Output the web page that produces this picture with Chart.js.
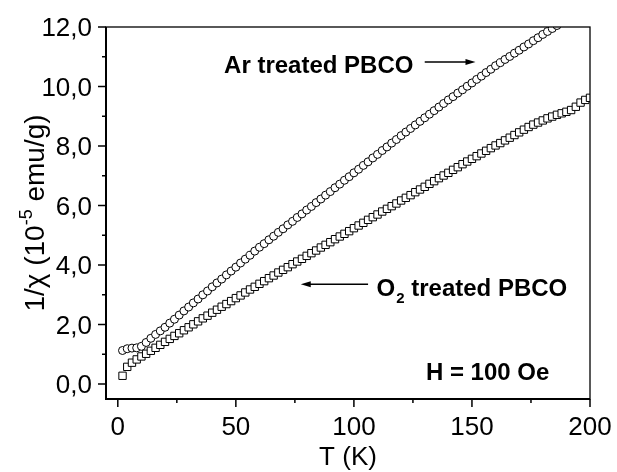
<!DOCTYPE html>
<html>
<head>
<meta charset="utf-8">
<script src="https://cdn.jsdelivr.net/npm/chart.js@4.4.0/dist/chart.umd.min.js"></script>
<style>
  body { margin: 0; background: #fff; }
  #wrap { width: 617px; height: 472px; }
</style>
</head>
<body>
<div id="wrap"><canvas id="chi"></canvas></div>
<script>
var temps = [2,4,6,8,10,12,14,16,18,20,22,24,26,28,30,32,34,36,38,40,
  42,44,46,48,50,52,54,56,58,60,62,64,66,68,70,72,74,76,78,80,
  82,84,86,88,90,92,94,96,98,100,102,104,106,108,110,112,114,116,118,120,
  122,124,126,128,130,132,134,136,138,140,142,144,146,148,150,152,154,156,158,160,
  162,164,166,168,170,172,174,176,178,180,182,184,186,188,190,192,194,196,198,200];

// Ar treated PBCO (circles)
var arValues = [1.13,1.19,1.21,1.22,1.27,1.40,1.54,1.67,1.79,1.91,
  2.05,2.18,2.32,2.46,2.59,2.73,2.86,3.00,3.13,3.27,
  3.40,3.53,3.67,3.80,3.93,4.07,4.20,4.33,4.47,4.60,
  4.72,4.85,4.97,5.10,5.22,5.35,5.47,5.60,5.72,5.85,
  5.97,6.10,6.22,6.35,6.47,6.60,6.72,6.85,6.97,7.10,
  7.22,7.35,7.47,7.60,7.72,7.85,7.97,8.10,8.22,8.35,
  8.47,8.59,8.71,8.83,8.95,9.07,9.19,9.31,9.43,9.55,
  9.66,9.78,9.89,10.01,10.12,10.24,10.35,10.47,10.58,10.70,
  10.80,10.91,11.01,11.12,11.22,11.33,11.43,11.54,11.64,11.75,
  11.85,11.95,12.05];

// O2 treated PBCO (squares)
var o2Values = [0.28,0.58,0.72,0.83,0.93,1.02,1.12,1.22,1.32,1.42,
  1.52,1.62,1.71,1.81,1.91,2.01,2.11,2.21,2.30,2.40,
  2.50,2.60,2.69,2.79,2.89,2.98,3.08,3.18,3.27,3.37,
  3.46,3.56,3.65,3.75,3.84,3.93,4.03,4.12,4.21,4.31,
  4.40,4.49,4.59,4.68,4.77,4.87,4.96,5.05,5.14,5.24,
  5.33,5.42,5.52,5.61,5.70,5.80,5.89,5.98,6.07,6.17,
  6.26,6.35,6.45,6.54,6.63,6.73,6.82,6.92,7.01,7.10,
  7.20,7.29,7.39,7.48,7.57,7.66,7.75,7.84,7.93,8.02,
  8.10,8.19,8.28,8.37,8.46,8.55,8.64,8.72,8.79,8.86,
  8.93,8.99,9.05,9.10,9.15,9.21,9.32,9.46,9.55,9.62];

var xMajor = [0, 50, 100, 150, 200];
var xMinor = [25, 75, 125, 175];
var yMajor = [0, 2, 4, 6, 8, 10, 12];
var yMinor = [1, 3, 5, 7, 9, 11];

function pts(vals){
    return vals.map(function(v, i){ return {x: temps[i], y: v}; });
}

function arrow(ctx, x1, y1, x2, y2){
    var dir = x2 > x1 ? 1 : -1;
    ctx.beginPath();
    ctx.moveTo(x1, y1);
    ctx.lineTo(x2 - dir*8, y2);
    ctx.stroke();
    ctx.beginPath();
    ctx.moveTo(x2, y2);
    ctx.lineTo(x2 - dir*10, y2 - 3);
    ctx.lineTo(x2 - dir*10, y2 + 3);
    ctx.closePath();
    ctx.fill();
}

var axesPlugin = {
    id: 'axesPlugin',
    afterDraw: function(chart){
        var ctx = chart.ctx, a = chart.chartArea;
        var x = chart.scales.x, y = chart.scales.y;
        ctx.save();
        ctx.strokeStyle = '#000';
        ctx.fillStyle = '#000';

        // frame
        ctx.lineWidth = 1.3;
        ctx.strokeRect(a.left, a.top, a.right - a.left, a.bottom - a.top);
        ctx.lineWidth = 2;
        ctx.beginPath();
        ctx.moveTo(a.left, a.top);
        ctx.lineTo(a.left, a.bottom);
        ctx.lineTo(a.right, a.bottom);
        ctx.stroke();

        // ticks
        ctx.lineWidth = 1.5;
        ctx.beginPath();
        xMajor.forEach(function(t){ var px = x.getPixelForValue(t); ctx.moveTo(px, a.bottom); ctx.lineTo(px, a.bottom + 8); });
        xMinor.forEach(function(t){ var px = x.getPixelForValue(t); ctx.moveTo(px, a.bottom); ctx.lineTo(px, a.bottom + 4); });
        yMajor.forEach(function(t){ var py = y.getPixelForValue(t); ctx.moveTo(a.left - 8, py); ctx.lineTo(a.left, py); });
        yMinor.forEach(function(t){ var py = y.getPixelForValue(t); ctx.moveTo(a.left - 4, py); ctx.lineTo(a.left, py); });
        ctx.stroke();

        // tick labels
        ctx.font = '26px "Liberation Sans", Arial, sans-serif';
        ctx.textBaseline = 'alphabetic';
        ctx.textAlign = 'center';
        xMajor.forEach(function(t){ ctx.fillText(String(t), x.getPixelForValue(t), a.bottom + 36); });
        ctx.textAlign = 'right';
        yMajor.forEach(function(t){ ctx.fillText(t.toFixed(1).replace('.', ','), a.left - 14, y.getPixelForValue(t) + 9); });

        // x title
        ctx.textAlign = 'center';
        ctx.fillText('T (K)', (a.left + a.right) / 2, 465);

        // y title with superscript
        ctx.save();
        ctx.translate(44, (a.top + a.bottom) / 2);
        ctx.rotate(-Math.PI / 2);
        var big = '28px "Liberation Sans", Arial, sans-serif';
        var small = '18px "Liberation Sans", Arial, sans-serif';
        var p1 = '1/\u03C7 (10', p2 = '-5', p3 = ' emu/g)';
        ctx.font = big; var w1 = ctx.measureText(p1).width, w3 = ctx.measureText(p3).width;
        ctx.font = small; var w2 = ctx.measureText(p2).width;
        var sx = -(w1 + w2 + w3) / 2;
        ctx.textAlign = 'left';
        ctx.font = big; ctx.fillText(p1, sx, 0);
        ctx.font = small; ctx.fillText(p2, sx + w1, -12);
        ctx.font = big; ctx.fillText(p3, sx + w1 + w2, 0);
        ctx.restore();

        // annotations
        var bold = 'bold 24px "Liberation Sans", Arial, sans-serif';
        ctx.font = bold;
        ctx.textAlign = 'left';
        ctx.fillText('Ar treated PBCO', x.getPixelForValue(45), y.getPixelForValue(10.46));
        ctx.lineWidth = 1.5;
        arrow(ctx, x.getPixelForValue(130), y.getPixelForValue(10.82), x.getPixelForValue(151.5), y.getPixelForValue(10.82));

        var ox = x.getPixelForValue(109.6), oy = y.getPixelForValue(2.97);
        ctx.fillText('O', ox, oy);
        var wo = ctx.measureText('O').width;
        ctx.font = 'bold 15px "Liberation Sans", Arial, sans-serif';
        ctx.fillText('2', ox + wo + 1, oy + 7);
        var w2b = ctx.measureText('2').width;
        ctx.font = bold;
        ctx.fillText(' treated PBCO', ox + wo + w2b + 1, oy);
        arrow(ctx, x.getPixelForValue(106), y.getPixelForValue(3.36), x.getPixelForValue(77.5), y.getPixelForValue(3.36));

        ctx.fillText('H = 100 Oe', x.getPixelForValue(130.5), y.getPixelForValue(0.15));
        ctx.restore();
    }
};

new Chart(document.getElementById('chi'), {
    type: 'scatter',
    data: {
        datasets: [{
            label: 'Ar treated PBCO',
            data: pts(arValues),
            pointStyle: 'circle',
            pointRadius: 4,
            borderWidth: 1,
            borderColor: '#000',
            backgroundColor: '#fff'
        }, {
            label: 'O2 treated PBCO',
            data: pts(o2Values),
            pointStyle: 'rect',
            pointRadius: 5.2,
            borderWidth: 1,
            borderColor: '#000',
            backgroundColor: '#fff'
        }]
    },
    options: {
        responsive: true,
        maintainAspectRatio: false,
        animation: false,
        layout: {
            padding: { left: 106, right: 27, top: 27, bottom: 73 }
        },
        plugins: {
            legend: { display: false },
            tooltip: { enabled: false }
        },
        scales: {
            x: { type: 'linear', min: -5, max: 200, display: false },
            y: { type: 'linear', min: -0.5, max: 12, display: false }
        }
    },
    plugins: [axesPlugin]
});
</script>
</body>
</html>
